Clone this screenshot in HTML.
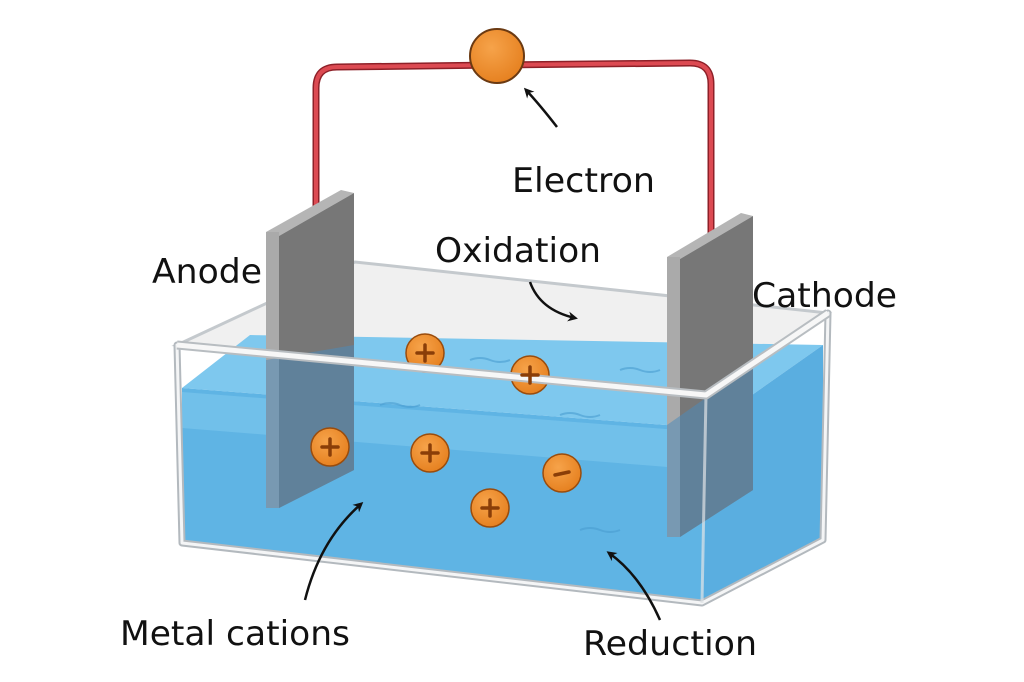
<!DOCTYPE html>
<html><head><meta charset="utf-8"><style>
html,body{margin:0;padding:0;background:#fff;}
svg{display:block;}
text{font-family:"DejaVu Sans","Liberation Sans",sans-serif;font-size:34px;fill:#111;}
</style></head><body>
<svg width="1024" height="682" viewBox="0 0 1024 682" xmlns="http://www.w3.org/2000/svg">
<defs>
<marker id="ah" markerWidth="10" markerHeight="10" refX="7" refY="5" orient="auto" markerUnits="userSpaceOnUse">
<path d="M0,0 L10,5 L0,10 L3,5 Z" fill="#111"/></marker>
<radialGradient id="og" cx="0.4" cy="0.35" r="0.7"><stop offset="0" stop-color="#f6a34a"/><stop offset="1" stop-color="#e57f1e"/></radialGradient>
</defs>
<!-- glass back -->
<polygon points="177,345 355,262 828,313 706,395" fill="#f0f0f0" stroke="#c4c9cd" stroke-width="3"/>
<!-- wire -->
<path d="M316,210 L316,88 Q316,67 337,67 L497,65 L690,63 Q711,63 711,84 L711,234" fill="none" stroke="#8e2028" stroke-width="7"/>
<path d="M316,210 L316,88 Q316,67 337,67 L497,65 L690,63 Q711,63 711,84 L711,234" fill="none" stroke="#dc4a52" stroke-width="4"/>
<!-- electron -->
<circle cx="497" cy="56" r="27" fill="url(#og)" stroke="#6b3a12" stroke-width="2"/>
<!-- water -->
<polygon points="182,388 250,335 823,345 705,428" fill="#7ec8ee"/>
<polygon points="182,388 705,428 702,600 182,543" fill="#5fb4e4"/>
<polygon points="705,428 823,345 823,540 702,600" fill="#5aaee0"/>
<polygon points="182,392 705,432 705,470 182,428" fill="#79c4ec" opacity="0.7"/>
<g fill="none" stroke="#4a9dd0" stroke-width="2" opacity="0.6">
<path d="M380,405 q10,-4 20,0 t20,0"/><path d="M560,415 q10,-4 20,0 t20,0"/><path d="M290,395 q10,-4 20,0 t20,0"/>
<path d="M470,360 q10,-4 20,0 t20,0"/><path d="M620,370 q10,-4 20,0 t20,0"/><path d="M580,530 q10,-4 20,0 t20,0"/>
</g>
<!-- anode -->
<polygon points="266,232 341,190 354,193 279,236" fill="#b5b5b5"/>
<polygon points="279,236 354,193 354,470 279,508" fill="#777"/>
<rect x="266" y="232" width="13" height="276" fill="#aaa"/>
<polygon points="266,360 354,345 354,470 279,508 266,508" fill="#4f8ab8" opacity="0.55"/>
<!-- cathode -->
<polygon points="667,257 741,213 753,216 680,259" fill="#b5b5b5"/>
<polygon points="680,259 753,216 753,490 680,537" fill="#777"/>
<rect x="667" y="257" width="13" height="280" fill="#aaa"/>
<polygon points="667,425 753,365 753,490 680,537 667,537" fill="#4f8ab8" opacity="0.55"/>
<!-- ions behind rim -->
<g stroke="#9a4c0c" stroke-width="1.5">
<circle cx="425" cy="353" r="19" fill="url(#og)"/>
<circle cx="530" cy="375" r="19" fill="url(#og)"/>
</g>
<!-- glass front -->
<path d="M177,345 L706,395 L828,313 L823,540 L702,603 L182,543 Z" fill="none" stroke="#b3b9be" stroke-width="7" stroke-linejoin="round"/>
<path d="M177,345 L706,395 L828,313 L823,540 L702,603 L182,543 Z" fill="none" stroke="#f4f5f6" stroke-width="3" stroke-linejoin="round"/>
<line x1="706" y1="395" x2="702" y2="603" stroke="#dfe3e6" stroke-width="3" opacity="0.7"/>
<polyline points="177,345 706,395 828,313" fill="none" stroke="#b8bdc1" stroke-width="9" stroke-linejoin="round"/>
<polyline points="177,345 706,395 828,313" fill="none" stroke="#f7f7f7" stroke-width="5" stroke-linejoin="round"/>
<!-- ions -->
<g stroke="#9a4c0c" stroke-width="1.5">
<circle cx="330" cy="447" r="19" fill="url(#og)"/>
<circle cx="430" cy="453" r="19" fill="url(#og)"/>
<circle cx="490" cy="508" r="19" fill="url(#og)"/>
<circle cx="562" cy="473" r="19" fill="url(#og)"/>
</g>
<g stroke="#8a3e08" stroke-width="3.5" stroke-linecap="round">
<path d="M417,353h16M425,345v16"/>
<path d="M522,375h16M530,367v16"/>
<path d="M322,447h16M330,439v16"/>
<path d="M422,453h16M430,445v16"/>
<path d="M482,508h16M490,500v16"/>
<path d="M555,475l14,-3"/>
</g>
<!-- arrows -->
<g fill="none" stroke="#111" stroke-width="2.5" marker-end="url(#ah)">
<path d="M557,127 Q540,105 526,90"/>
<path d="M530,282 Q540,310 575,318"/>
<path d="M305,600 Q320,540 361,504"/>
<path d="M660,620 Q640,575 609,553"/>
</g>
<!-- labels -->
<text x="512" y="192" textLength="143" lengthAdjust="spacingAndGlyphs">Electron</text>
<text x="152" y="283" textLength="110" lengthAdjust="spacingAndGlyphs">Anode</text>
<text x="435" y="262" textLength="166" lengthAdjust="spacingAndGlyphs">Oxidation</text>
<text x="752" y="307" textLength="145" lengthAdjust="spacingAndGlyphs">Cathode</text>
<text x="120" y="645" textLength="230" lengthAdjust="spacingAndGlyphs">Metal cations</text>
<text x="583" y="655" textLength="174" lengthAdjust="spacingAndGlyphs">Reduction</text>
</svg>
</body></html>
